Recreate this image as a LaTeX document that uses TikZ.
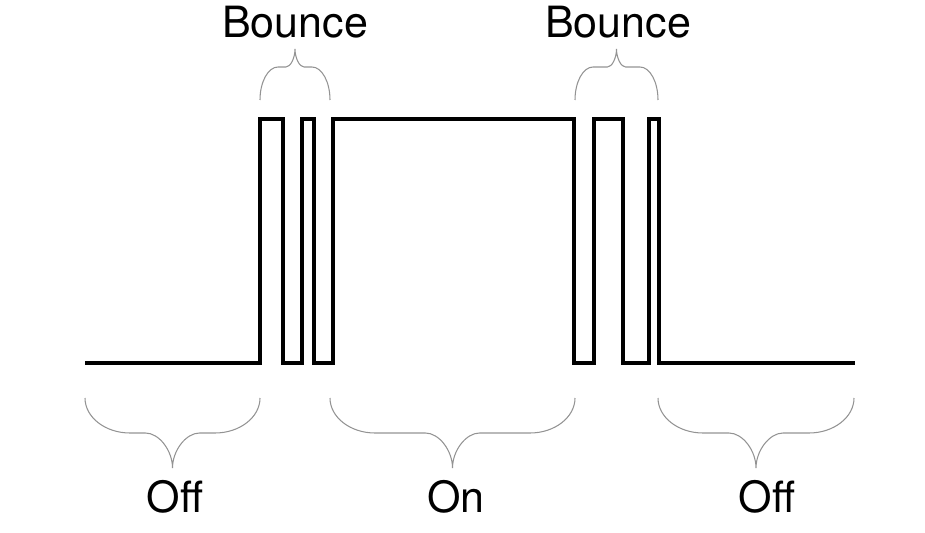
\documentclass[tikz,border=0pt]{standalone}
\usepackage{fontspec}
\setmainfont{TeX Gyre Heros}
\usepackage{tikz}
\usetikzlibrary{positioning}

% curly brace: left x, right x, end y, middle y, tip y, end-curve width, tip-curve width
\newcommand{\curlybrace}[7]{%
  \pgfmathsetmacro{\cbx}{(#1+#2)/2}%
  \pgfmathsetmacro{\cbe}{#3+0.55*(#4-#3)}%
  \pgfmathsetmacro{\cbt}{#4+0.5*(#5-#4)}%
  \draw[brc] (#1,#3) .. controls (#1,\cbe) and (#1+0.45*#6,#4) .. (#1+#6,#4)
    -- (\cbx-#7,#4) .. controls (\cbx-0.5*#7,#4) and (\cbx,\cbt) .. (\cbx,#5)
    .. controls (\cbx,\cbt) and (\cbx+0.5*#7,#4) .. (\cbx+#7,#4)
    -- (#2-#6,#4) .. controls (#2-0.45*#6,#4) and (#2,\cbe) .. (#2,#3);}

\begin{document}
\begin{tikzpicture}[
  x=0.02cm,y=-0.02cm,
  wave/.style={line width=2.2pt,black},
  brc/.style={line width=0.6pt,gray!85},
  lbl/.style={font=\fontsize{24.5}{28}\selectfont,anchor=base,inner sep=0pt}
]
\useasboundingbox (0,0) rectangle (925,533);

% signal
\draw[wave] (85,363) -| (260,119) -| (283,363) -| (302,119) -| (314,363)
  -| (333,119) -| (574,363) -| (594,119) -| (623,363) -| (649,119)
  -| (659,363) -- (855,363);

% braces
\curlybrace{260}{330}{100}{67}{49}{18}{9}
\curlybrace{575}{658}{100}{67}{49}{18}{9}
\curlybrace{85}{260}{398}{433}{468}{45}{27}
\curlybrace{330}{575}{398}{433}{468}{45}{27}
\curlybrace{658}{854}{398}{433}{468}{45}{27}

% labels
\node[lbl] (bounce1) at (295,38) {Bounce};
\node[lbl] (bounce2) at (618,38) {Bounce};
\node[lbl] (off1) at (175,512) {Off};
\node[lbl] (on) at (456,512) {On};
\node[lbl] (off2) at (767,512) {Off};
\end{tikzpicture}
\end{document}
